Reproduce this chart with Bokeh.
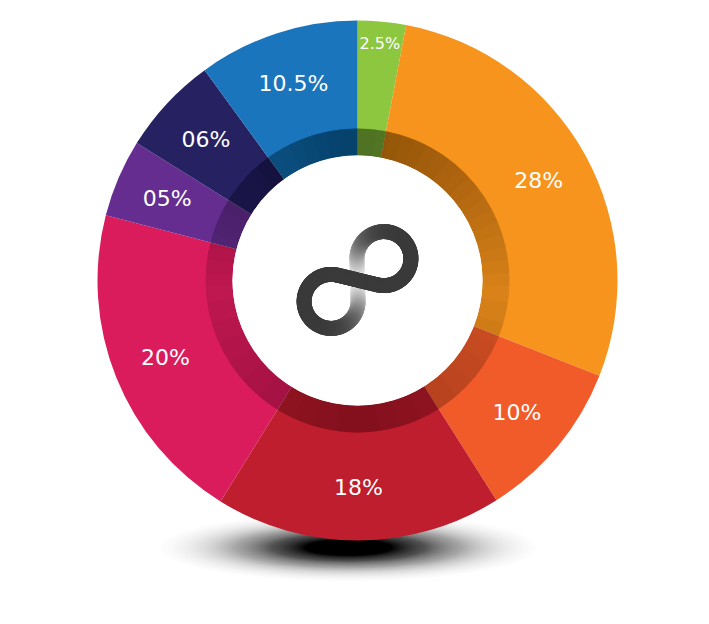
import numpy as np
import pandas as pd
from bokeh.plotting import figure
from bokeh.models import ColumnDataSource
from bokeh.embed import file_html
from bokeh.resources import INLINE
from bokeh.core.properties import value, field

# ---- data ----
labels = ["2.5%", "28%", "10%", "18%", "20%", "05%", "06%", "10.5%"]
# arc sizes as drawn in the picture (percent of the full turn, clockwise from 12 o'clock)
arc_shares = [3.0, 27.97, 10.06, 17.8, 20.2, 4.83, 6.14, 10.0]
colors = ["#8dc63f", "#f7941d", "#f15a29", "#be1e2d", "#da1c5c", "#662d91", "#262262", "#1b75bc"]

# ---- layout ----
W, H = 709, 624
CX, CY = 357, 344
R_OUT, R_IN, R_RING = 260, 125, 152

df = pd.DataFrame(dict(label=labels, share=arc_shares, color=colors))
frac = df.share / df.share.sum()
cum = frac.cumsum()
df["start"] = np.pi / 2 - 2 * np.pi * (cum - frac)
df["end"] = np.pi / 2 - 2 * np.pi * cum
mid = (df.start + df.end) / 2
lr = np.where(df.index == 0, 238, 207)
df["lx"] = CX + lr * np.cos(mid)
df["ly"] = CY + lr * np.sin(mid)
df["fs"] = np.where(df.index == 0, "16px", "22px")
src = ColumnDataSource(df)

p = figure(width=W, height=H, x_range=(0, W), y_range=(0, H),
           output_backend="svg", toolbar_location=None, min_border=0)
p.axis.visible = False
p.grid.visible = False
p.outline_line_color = None
p.background_fill_color = "white"
p.border_fill_color = "white"

# ---- soft shadow under the donut (stacked translucent ellipses) ----
a_sh = 0.012
k = np.arange(1, 230)
O_k = 1 - (1 - a_sh) ** k
rho = np.sqrt(-2 * 0.40 ** 2 * np.log(O_k))
rho = rho[rho <= 1.0]
n_sh = len(rho)
sh = ColumnDataSource(dict(x=np.full(n_sh, 348.0), y=np.full(n_sh, 77.0),
                           w=2 * 190 * rho, h=2 * 34 * rho))
p.ellipse(x="x", y="y", width="w", height="h", source=sh,
          fill_color="black", fill_alpha=a_sh, line_color=None)

# ---- donut ----
p.annular_wedge(x=CX, y=CY, inner_radius=R_IN, outer_radius=R_OUT,
                start_angle="start", end_angle="end", direction="clock",
                fill_color="color", line_color=None, source=src)

# ---- darker inner ring (shading) ----
p.annulus(x=CX, y=CY, inner_radius=R_IN, outer_radius=R_RING,
          fill_color="black", fill_alpha=0.12, line_color=None)
k_top = np.arange(1, 19)
phi_t = np.pi / 2 * (1.08 - k_top / 18)
ts = ColumnDataSource(dict(s=np.pi / 2 - phi_t, e=np.pi / 2 + phi_t))
p.annular_wedge(x=CX, y=CY, inner_radius=R_IN, outer_radius=R_RING,
                start_angle="s", end_angle="e", source=ts,
                fill_color="black", fill_alpha=0.021, line_color=None)
k_bot = np.arange(1, 11)
phi_b = np.pi / 2 * (1.0 - k_bot / 11)
bs = ColumnDataSource(dict(s=-np.pi / 2 - phi_b, e=-np.pi / 2 + phi_b))
p.annular_wedge(x=CX, y=CY, inner_radius=R_IN, outer_radius=R_RING,
                start_angle="s", end_angle="e", source=bs,
                fill_color="black", fill_alpha=0.018, line_color=None)

# ---- white hole ----
p.circle(x=CX, y=CY, radius=R_IN, fill_color="white", line_color=None)

# ---- infinity icon (decoration): two loops joined by crossing tangents ----
d, r = 34.0, 27.0
al = np.arcsin(r / d)
L = np.sqrt(d * d - r * r)
th1 = np.arctan2(L * np.sin(al), L * np.cos(al) - d)   # tangent point angle on loop 1
th2 = np.pi - th1                                       # tangent point angle on loop 2
pts = []
# strand A: from loop 2 through the crossing to loop 1
for s_ in np.linspace(-L, L, 30):
    pts.append((s_ * np.cos(al), s_ * np.sin(al)))
# loop 1, clockwise
for th in np.linspace(th1, th1 - 2 * th1, 100)[1:]:
    pts.append((d + r * np.cos(th), r * np.sin(th)))
# strand B: from loop 1 through the crossing to loop 2
for s_ in np.linspace(L, -L, 30)[1:]:
    pts.append((s_ * np.cos(al), -s_ * np.sin(al)))
# loop 2, counter-clockwise
for th in np.linspace(th2, th2 + 2 * np.pi - 2 * th2, 100)[1:]:
    pts.append((-d + r * np.cos(th), r * np.sin(th)))
pts = np.array(pts)
seglen = np.hypot(np.diff(pts[:, 0]), np.diff(pts[:, 1]))
cl = np.concatenate([[0], np.cumsum(seglen)])
P = cl[-1]
s_mid = (cl[:-1] + cl[1:]) / 2 - L
s_mid = (s_mid + P / 2) % P - P / 2
g = np.exp(-(s_mid / 36.0) ** 2)
lvl = (0x3a + (0xf4 - 0x3a) * g).astype(int)
seg_cols = ["#%02x%02x%02x" % (c, c, c) for c in lvl]
rot = np.deg2rad(39)
ix = CX + pts[:, 0] * np.cos(rot) - pts[:, 1] * np.sin(rot)
iy = CY + 0.5 + pts[:, 0] * np.sin(rot) + pts[:, 1] * np.cos(rot)
order = np.argsort(-g)
seg = ColumnDataSource(dict(x0=ix[:-1][order], y0=iy[:-1][order],
                            x1=ix[1:][order], y1=iy[1:][order],
                            c=[seg_cols[i] for i in order]))
p.segment(x0="x0", y0="y0", x1="x1", y1="y1", source=seg,
          line_color="c", line_width=15, line_cap="round")

# ---- labels ----
p.text(x="lx", y="ly", text="label", source=src,
       text_font=value("DejaVu Sans"), text_font_size=field("fs"),
       text_align="center", text_baseline="middle", text_color="white")

open("out.html", "w").write(file_html(p, INLINE))
